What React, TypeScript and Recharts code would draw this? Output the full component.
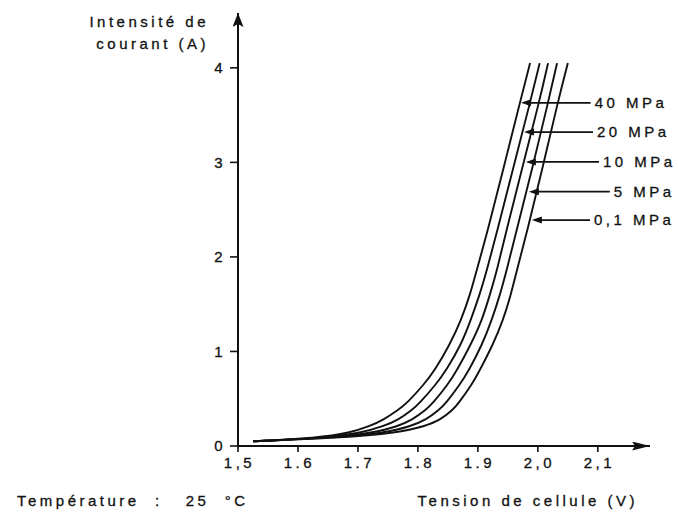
import React from 'react';
import { LineChart, Line, XAxis, YAxis, ReferenceLine, Label } from 'recharts';

// Current levels (A) at which the voltage of each curve was read
const currentLevels = [0.05, 0.085, 0.14, 0.21, 0.275, 0.38, 0.455, 0.65, 0.8, 1.07, 1.33, 1.6, 1.86, 2.29, 2.92, 3.63, 4.05];

// Cell voltage (V) for each pressure, read at the current levels above
const v40MPa = [1.525, 1.633, 1.687, 1.72, 1.742, 1.767, 1.782, 1.81, 1.828, 1.853, 1.872, 1.887, 1.898, 1.917, 1.942, 1.97, 1.987];
const v20MPa = [1.525, 1.643, 1.707, 1.743, 1.767, 1.79, 1.803, 1.83, 1.847, 1.872, 1.888, 1.903, 1.915, 1.933, 1.958, 1.987, 2.003];
const v10MPa = [1.525, 1.652, 1.727, 1.767, 1.79, 1.813, 1.825, 1.85, 1.865, 1.888, 1.907, 1.92, 1.932, 1.948, 1.973, 2.002, 2.017];
const v5MPa = [1.525, 1.66, 1.747, 1.788, 1.813, 1.835, 1.847, 1.87, 1.885, 1.907, 1.923, 1.937, 1.948, 1.965, 1.99, 2.017, 2.032];
const v01MPa = [1.525, 1.67, 1.767, 1.812, 1.837, 1.858, 1.868, 1.89, 1.903, 1.925, 1.942, 1.955, 1.965, 1.983, 2.007, 2.033, 2.05];

const seriesNames = ['40 MPa', '20 MPa', '10 MPa', '5 MPa', '0,1 MPa'];
const seriesVoltages = [v40MPa, v20MPa, v10MPa, v5MPa, v01MPa];

// Annotation leaders: current at which each leader is drawn, voltage of arrow tip, voltage of leader end
const leaderCurrent = [3.63, 3.32, 3.005, 2.69, 2.39];
const leaderTipV = [1.972, 1.977, 1.98, 1.985, 1.99];
const leaderEndV = [2.088, 2.092, 2.102, 2.12, 2.087];

const xTicks = [1.5, 1.6, 1.7, 1.8, 1.9, 2.0, 2.1];
const xTickLabels = ['1,5', '1.6', '1.7', '1.8', '1.9', '2,0', '2,1'];
const yTicks = [0, 1, 2, 3, 4];

const xDomain = [1.5, 2.187];
const yDomain = [0, 4.58];

const FONT = '"Liberation Sans", Arial, Helvetica, sans-serif';
const INK = '#111';
const textStyle = {
  fontFamily: FONT,
  fontSize: 15,
  fill: INK,
  stroke: INK,
  strokeWidth: 0.3,
  letterSpacing: '3.5px',
  whiteSpace: 'pre',
} as const;

const toPoints = (vs: number[]) => vs.map((v, k) => ({ v, i: currentLevels[k] }));

const XTick = (props: any) => {
  const { x, y, payload } = props;
  const idx = xTicks.findIndex((t) => Math.abs(t - payload.value) < 1e-6);
  return (
    <text x={x + 1.5} y={y} dy="0.71em" textAnchor="middle" style={textStyle}>
      {idx >= 0 ? xTickLabels[idx] : String(payload.value)}
    </text>
  );
};

const YTick = (props: any) => {
  const { x, y, payload } = props;
  return (
    <text x={x} y={y} dy="0.355em" textAnchor="end" style={textStyle}>
      {payload.value}
    </text>
  );
};

const leaderShape = (name: string) => (p: any) => {
  const { x1, y1, x2, y2 } = p;
  return (
    <g>
      <line x1={x1 + 6} y1={y1} x2={x2} y2={y2} stroke={INK} strokeWidth={1.7} />
      <path d={`M${x1},${y1} L${x1 + 10},${y1 - 3.5} L${x1 + 10},${y1 + 3.5} Z`} fill={INK} />
      <text x={x2 + 4} y={y2 + 5} style={textStyle}>
        {name}
      </text>
    </g>
  );
};

const XAxisTitle = (props: any) => {
  const vb = props.viewBox;
  return (
    <g>
      <text x={vb.x + vb.width - 12} y={vb.y + 60} textAnchor="end" style={textStyle}>
        Tension de cellule (V)
      </text>
      <text x={vb.x - 221} y={vb.y + 60} textAnchor="start" style={textStyle}>
        {'Température  :   25  °C'}
      </text>
    </g>
  );
};

const YAxisTitle = (props: any) => {
  const vb = props.viewBox;
  return (
    <g>
      <text x={vb.x + 1} y={vb.y + 14} textAnchor="end" style={textStyle}>
        Intensité de
      </text>
      <text x={vb.x + 1} y={vb.y + 36} textAnchor="end" style={textStyle}>
        courant (A)
      </text>
    </g>
  );
};

export default function App() {
  return (
    <div style={{ position: 'absolute', left: 0, top: 0, width: 678, height: 512, background: '#fff' }}>
      <LineChart width={678} height={512} margin={{ top: 13, right: 28, bottom: 36, left: 208 }}>
        <defs>
          <marker id="arrowY" markerUnits="userSpaceOnUse" markerWidth={14} markerHeight={11} refX={14} refY={5.5} orient="auto-start-reverse">
            <path d="M0,0 L14,5.5 L0,11 L3,5.5 Z" fill={INK} />
          </marker>
          <marker id="arrowX" markerUnits="userSpaceOnUse" markerWidth={18} markerHeight={9} refX={18} refY={4.5} orient="auto">
            <path d="M0,0 L18,4.5 L0,9 L3,4.5 Z" fill={INK} />
          </marker>
        </defs>
        <XAxis
          type="number"
          dataKey="v"
          domain={xDomain}
          allowDataOverflow
          ticks={xTicks}
          height={30}
          tickSize={6}
          tickMargin={5}
          tick={<XTick />}
          axisLine={{ stroke: INK, strokeWidth: 2, markerEnd: 'url(#arrowX)' }}
          tickLine={{ stroke: INK, strokeWidth: 1.6 }}
        >
          <Label content={<XAxisTitle />} />
        </XAxis>
        <YAxis
          type="number"
          dataKey="i"
          domain={yDomain}
          allowDataOverflow
          ticks={yTicks}
          width={30}
          tickSize={8}
          tickMargin={4}
          tick={<YTick />}
          axisLine={{ stroke: INK, strokeWidth: 2, markerStart: 'url(#arrowY)' }}
          tickLine={{ stroke: INK, strokeWidth: 1.6 }}
        >
          <Label content={<YAxisTitle />} />
        </YAxis>
        {seriesVoltages.map((vs, k) => (
          <Line
            key={seriesNames[k]}
            data={toPoints(vs)}
            dataKey="i"
            type="basis"
            stroke={INK}
            strokeWidth={1.9}
            dot={false}
            activeDot={false}
            isAnimationActive={false}
          />
        ))}
        {seriesNames.map((name, k) => (
          <ReferenceLine
            key={'lead' + name}
            segment={[
              { x: leaderTipV[k], y: leaderCurrent[k] },
              { x: leaderEndV[k], y: leaderCurrent[k] },
            ]}
            ifOverflow="visible"
            shape={leaderShape(name)}
          />
        ))}
      </LineChart>
    </div>
  );
}
